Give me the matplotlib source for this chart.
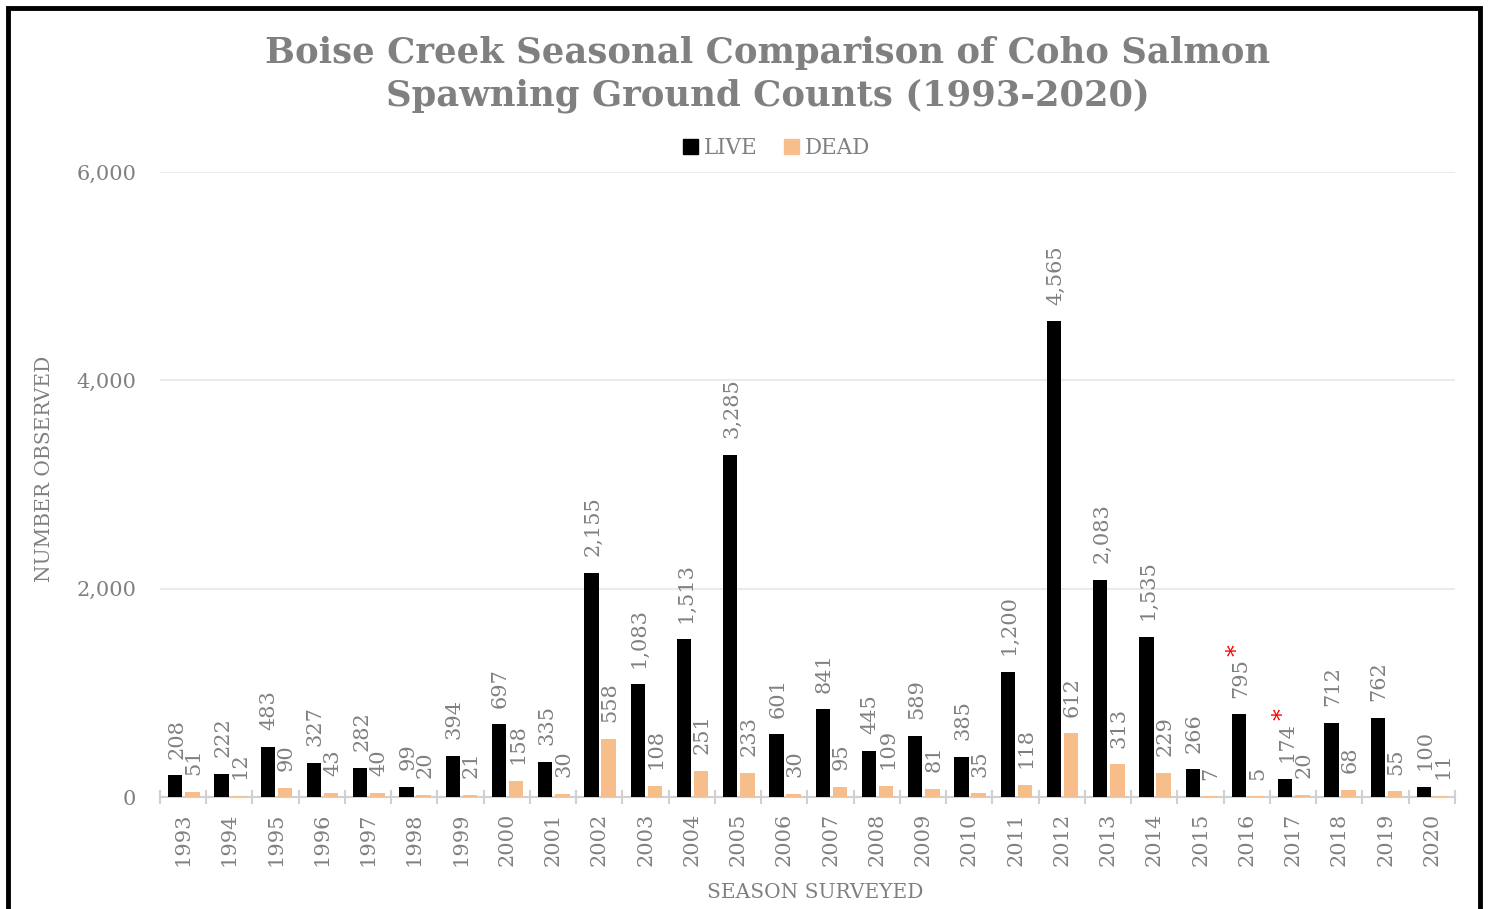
import numpy as np
import matplotlib.pyplot as plt
from matplotlib.patches import Rectangle, Patch

# Survey seasons and counts
years = [str(y) for y in range(1993, 2021)]
live = [208, 222, 483, 327, 282, 99, 394, 697, 335, 2155, 1083, 1513, 3285, 601,
        841, 445, 589, 385, 1200, 4565, 2083, 1535, 266, 795, 174, 712, 762, 100]
dead = [51, 12, 90, 43, 40, 20, 21, 158, 30, 558, 108, 251, 233, 30,
        95, 109, 81, 35, 118, 612, 313, 229, 7, 5, 20, 68, 55, 11]
flagged = ['2016', '2017']  # live counts marked with a red asterisk

gray = '#808080'
dead_color = '#F7BE8C'
plt.rcParams['font.family'] = ['DejaVu Serif']

fig = plt.figure(figsize=(14.88, 9.09), dpi=100)
ax = fig.add_axes([0.1075, 0.1232, 0.8703, 0.6876])

x = np.arange(len(years))
w = 0.31
bars_live = ax.bar(x - 0.17, live, w, color='black', label='LIVE', zorder=3)
bars_dead = ax.bar(x + 0.2, dead, w, color=dead_color, label='DEAD', zorder=3)

# Value labels, rotated like the original
for bars, vals in [(bars_live, live), (bars_dead, dead)]:
    for b, v, yr in zip(bars, vals, years):
        t = ax.annotate(f'{v:,}', xy=(b.get_x() + b.get_width() / 2, v),
                        xytext=(1, 12), textcoords='offset points',
                        rotation=90, ha='center', va='bottom',
                        fontsize=15, color=gray, zorder=4)
        if bars is bars_live and yr in flagged:
            ax.annotate('*', xy=(0.3, 1.0), xycoords=t, xytext=(0, 1.5),
                        textcoords='offset points', rotation=90,
                        ha='center', va='bottom', fontsize=17, color='red')

ax.set_xlim(-0.5, len(years) - 0.5)
ax.set_ylim(0, 6000)
ax.set_yticks([0, 2000, 4000, 6000])
ax.set_yticklabels(['0', '2,000', '4,000', '6,000'])
ax.yaxis.grid(True, color='#ebebeb', linewidth=1.5, zorder=0)
ax.set_axisbelow(True)

for s in ['top', 'right', 'left']:
    ax.spines[s].set_visible(False)
ax.spines['bottom'].set_color('#d0d0d0')
ax.spines['bottom'].set_linewidth(1.5)

ax.set_xticks(x)
ax.set_xticklabels(years, rotation=90, fontsize=15, color=gray)
ax.set_xticks(np.arange(-0.5, len(years)), minor=True)
ax.tick_params(axis='x', which='major', length=0, pad=11)
ax.tick_params(axis='x', which='minor', length=10, width=1.5, color='#d0d0d0',
               direction='inout')
ax.tick_params(axis='y', length=0, pad=17, labelsize=15, labelcolor=gray)

ax.set_xlabel('SEASON SURVEYED', fontsize=14.5, color=gray, va='top')
ax.xaxis.set_label_coords(0.506, -0.137)
ax.set_ylabel('NUMBER OBSERVED', fontsize=14.5, color=gray)
ax.yaxis.set_label_coords(-0.082, 0.525)

fig.suptitle('Boise Creek Seasonal Comparison of Coho Salmon\n'
             'Spawning Ground Counts (1993-2020)',
             x=0.516, y=0.96, fontsize=25.5, fontweight='bold', color=gray,
             linespacing=1.3)

handles = [Patch(color='black'), Patch(color=dead_color)]
fig.legend(handles, ['LIVE', 'DEAD'], loc='center', bbox_to_anchor=(0.522, 0.837),
           ncol=2, frameon=False, fontsize=15.5, labelcolor=gray,
           handlelength=0.7, handleheight=0.7, handletextpad=0.3, columnspacing=1.2)

# black frame around the chart
fig.patches.append(Rectangle((8 / 1488, -0.1), 1472 / 1488, 1.1 - 8 / 909,
                             transform=fig.transFigure, fill=False,
                             edgecolor='black', linewidth=3.5))

fig.savefig('out.png', dpi=100)
